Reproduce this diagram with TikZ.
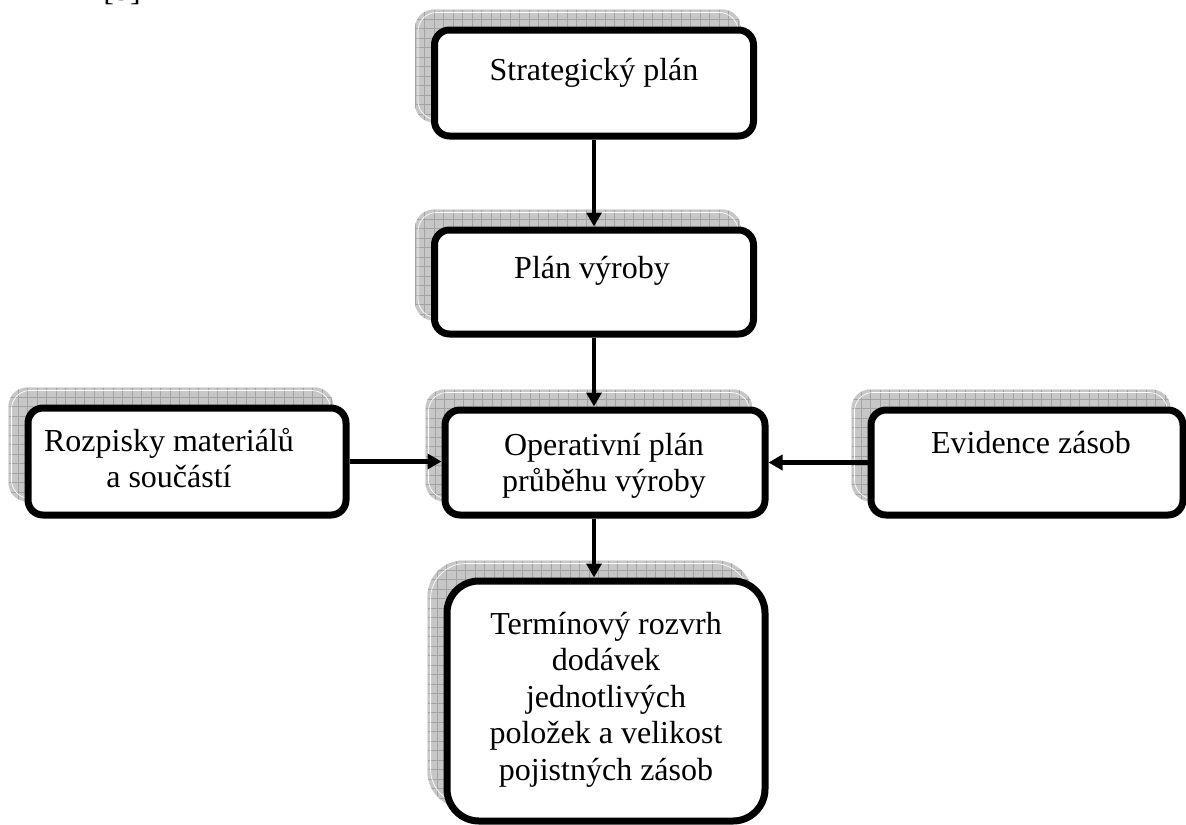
\documentclass[tikz,border=0pt]{standalone}
\usepackage{fontspec}
\setmainfont{Liberation Serif}
\usetikzlibrary{arrows.meta}

\tikzset{
  shadowfill/.style={fill=black!22},
  shadowgrid/.style={draw=black!36, line width=0.45pt},
  shadowedge/.style={draw=white, line width=0.5pt},
  panel/.style={draw=black, fill=white, line width=5.25pt,
    rounded corners=11.25pt, inner sep=0pt},
  caption/.style={inner sep=0pt, anchor=base,
    font=\fontsize{24pt}{27.4pt}\selectfont},
  arr/.style={line width=3.4pt, -{Triangle[width=11.25pt,length=10.5pt]}},
}

% hatched drop shadow behind a panel: corners in px, corner radius
\newcommand\gridshadow[5]{%
  \begin{scope}
    \clip[rounded corners=#5] (#1,#2) rectangle (#3,#4);
    \fill[shadowfill] (#1,#2) rectangle (#3,#4);
    \foreach \k in {0,...,40} {
      \draw[shadowgrid] ({#1+9.5*\k},#2) -- ({#1+9.5*\k},#4);
      \draw[shadowgrid] (#1,{#2+9.5*\k}) -- (#3,{#2+9.5*\k});
    }
  \end{scope}
  \draw[shadowedge, rounded corners=#5] ({#1+3},{#2+3}) rectangle ({#3-3},{#4-3});
}

\begin{document}
\begin{tikzpicture}[x=0.75pt, y=-0.75pt]
\useasboundingbox (0,0) rectangle (1186,825);

% shadows
\gridshadow{415}{9.5}{741}{122.5}{13.9pt}
\gridshadow{415}{209.5}{741}{320.5}{13.9pt}
\gridshadow{425.5}{389.5}{752.5}{501.5}{13.9pt}
\gridshadow{8.5}{387.5}{333.5}{501.5}{13.9pt}
\gridshadow{851.5}{389.5}{1170.5}{501.5}{13.9pt}
\gridshadow{427.5}{560.5}{752.5}{807.5}{26.6pt}

% panels
\node[panel, minimum width=239.25pt, minimum height=79.5pt] (b1) at (594,83) {};
\node[panel, minimum width=239.25pt, minimum height=78pt] (b2) at (594,282) {};
\node[panel, minimum width=240pt, minimum height=78.75pt] (b3) at (605,462.5) {};
\node[panel, minimum width=238.5pt, minimum height=80.25pt] (b4) at (187,461.5) {};
\node[panel, minimum width=234pt, minimum height=78.75pt] (b5) at (1027,462.5) {};
\node[panel, minimum width=238.5pt, minimum height=180pt, rounded corners=24pt] (b6) at (606,701) {};

% connectors
\draw[arr] (b1.south) -- (b2.north);
\draw[arr] (b2.south) -- (b2.south |- b3.north);
\draw[arr] (b2.south |- b3.south) -- (b2.south |- b6.north);
\draw[arr] (b4.east) -- (b4.east -| b3.west);
\draw[arr] (b5.west) -- (b5.west -| b3.east);

% texts
\node[caption] (ref) at (122,0) {[5]};
\node[caption] (t1) at (594,80) {Strategický plán};
\node[caption] (t2) at (592,278) {Plán výroby};
\node[caption] (t3) at (604,455) {\begin{tabular}[t]{@{}c@{}}Operativní plán\\průběhu výroby\end{tabular}};
\node[caption] (t4) at (169,451) {\begin{tabular}[t]{@{}c@{}}Rozpisky materiálů\\a součástí\end{tabular}};
\node[caption] (t5) at (1031,453) {Evidence zásob};
\node[caption] (t6) at (606,634) {\begin{tabular}[t]{@{}c@{}}Termínový rozvrh\\dodávek\\jednotlivých\\položek a velikost\\pojistných zásob\end{tabular}};
\end{tikzpicture}
\end{document}
